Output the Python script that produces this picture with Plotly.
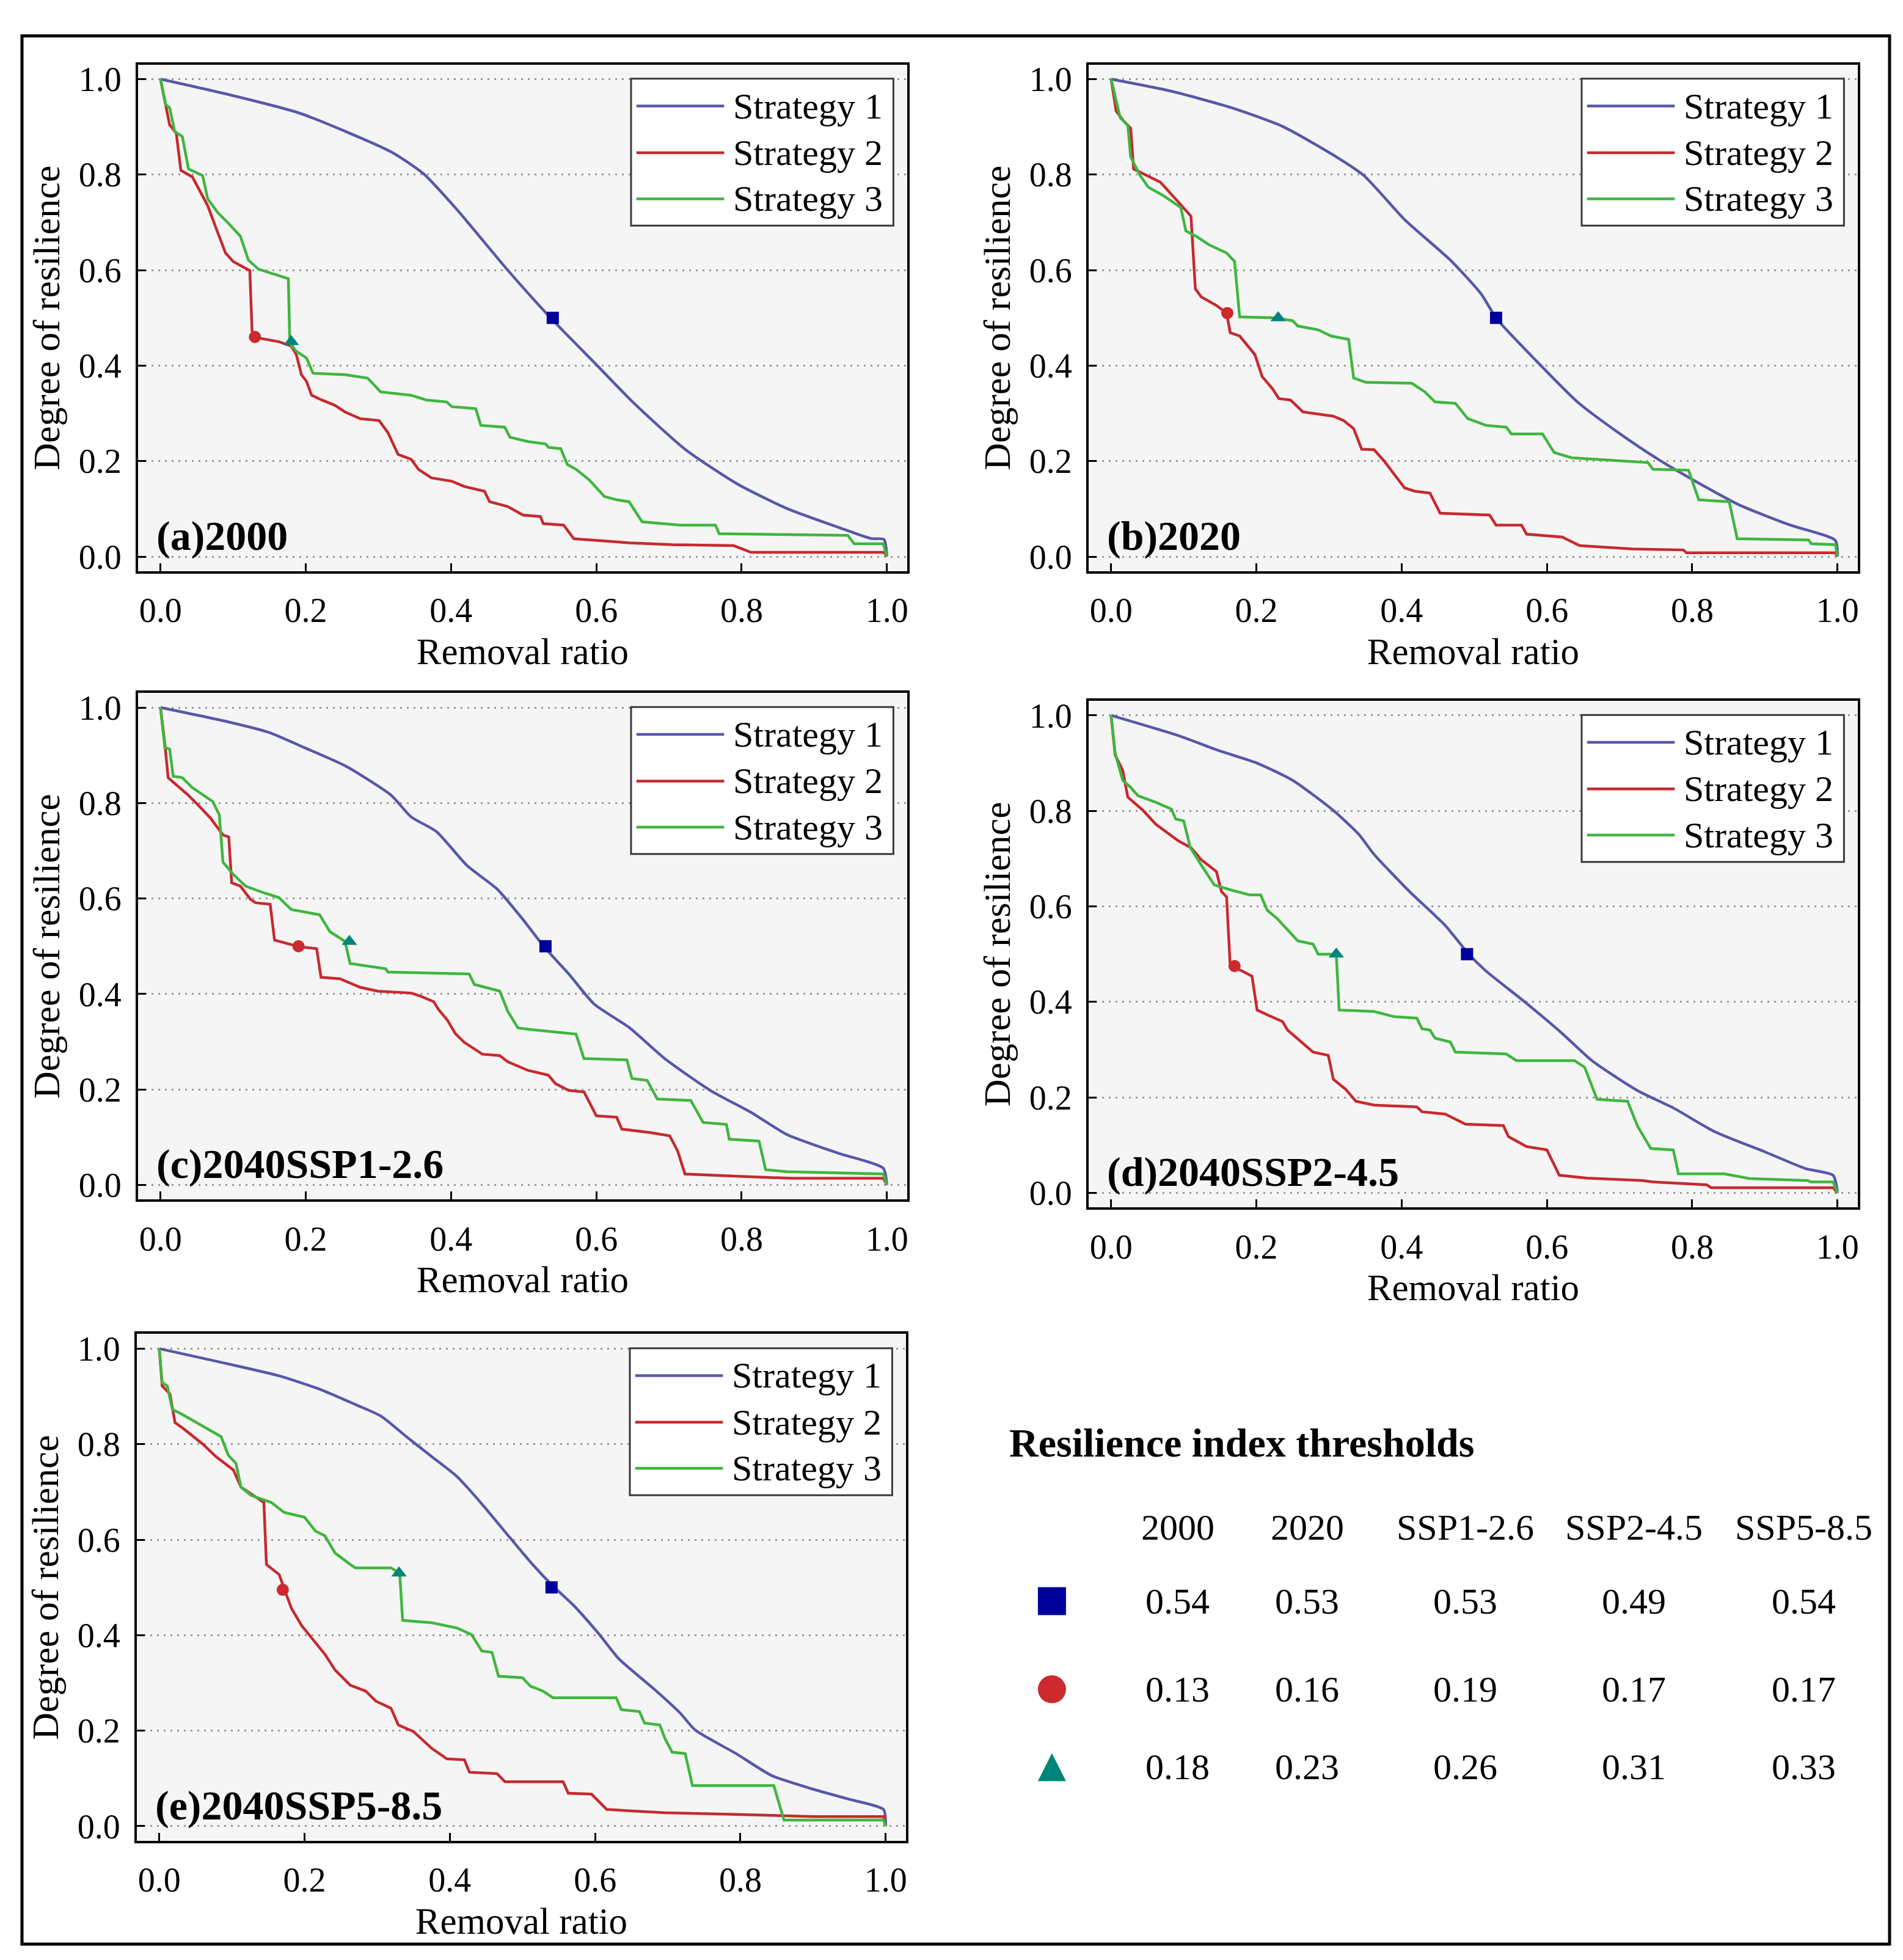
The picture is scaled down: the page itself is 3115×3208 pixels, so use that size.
import plotly.graph_objects as go

W, H = 3115, 3208
FONT = "Liberation Serif"

# ---------------- data ----------------
strategies = ["Strategy 1", "Strategy 2", "Strategy 3"]
panel_labels = ["(a)2000", "(b)2020", "(c)2040SSP1-2.6", "(d)2040SSP2-4.5", "(e)2040SSP5-8.5"]
scenarios = ["2000", "2020", "SSP1-2.6", "SSP2-4.5", "SSP5-8.5"]

# thresholds (removal ratio where resilience falls to ~0.5)
thr_s1 = [0.54, 0.53, 0.53, 0.49, 0.54]
thr_s2 = [0.13, 0.16, 0.19, 0.17, 0.17]
thr_s3 = [0.18, 0.23, 0.26, 0.31, 0.33]
# resilience value at the threshold markers
mk_s1_y = [0.50, 0.50, 0.50, 0.50, 0.50]
mk_s2_y = [0.46, 0.51, 0.50, 0.475, 0.495]
mk_s3_y = [0.45, 0.50, 0.51, 0.50, 0.53]

# (a) 2000
a_s1_x = [0, 0.093, 0.191, 0.317, 0.362, 0.408, 0.478, 0.537, 0.600, 0.652, 0.722, 0.792, 0.862, 0.932, 0.978, 0.996, 1.0]
a_s1_y = [1.0, 0.968, 0.929, 0.848, 0.802, 0.727, 0.600, 0.500, 0.402, 0.321, 0.225, 0.154, 0.101, 0.062, 0.038, 0.036, 0.0]
a_s2_x = [0, 0.006, 0.0126, 0.0217, 0.028, 0.044, 0.065, 0.0755, 0.0895, 0.100, 0.123, 0.126, 0.129, 0.138, 0.163, 0.180, 0.187, 0.194, 0.201, 0.208, 0.222, 0.240, 0.254, 0.275, 0.301, 0.313, 0.327, 0.345, 0.355, 0.373, 0.401, 0.418, 0.446, 0.453, 0.478, 0.499, 0.523, 0.527, 0.555, 0.569, 0.645, 0.705, 0.789, 0.813, 0.996, 1.0]
a_s2_y = [1.0, 0.954, 0.904, 0.887, 0.809, 0.795, 0.735, 0.692, 0.636, 0.618, 0.599, 0.473, 0.461, 0.457, 0.450, 0.441, 0.423, 0.381, 0.367, 0.338, 0.328, 0.317, 0.303, 0.289, 0.285, 0.260, 0.214, 0.204, 0.183, 0.165, 0.158, 0.147, 0.137, 0.115, 0.105, 0.087, 0.084, 0.069, 0.066, 0.0375, 0.029, 0.025, 0.023, 0.009, 0.009, 0.0]
a_s3_x = [0, 0.007, 0.0126, 0.0196, 0.030, 0.0385, 0.058, 0.065, 0.079, 0.093, 0.110, 0.121, 0.135, 0.176, 0.178, 0.187, 0.201, 0.210, 0.254, 0.285, 0.303, 0.345, 0.366, 0.394, 0.401, 0.434, 0.441, 0.474, 0.481, 0.506, 0.530, 0.534, 0.551, 0.560, 0.572, 0.590, 0.611, 0.628, 0.645, 0.663, 0.715, 0.764, 0.769, 0.946, 0.955, 0.995, 1.0]
a_s3_y = [1.0, 0.947, 0.940, 0.890, 0.880, 0.812, 0.798, 0.749, 0.720, 0.699, 0.671, 0.621, 0.602, 0.582, 0.448, 0.430, 0.416, 0.384, 0.381, 0.374, 0.345, 0.338, 0.328, 0.324, 0.314, 0.310, 0.275, 0.271, 0.250, 0.241, 0.236, 0.229, 0.226, 0.193, 0.183, 0.161, 0.126, 0.119, 0.115, 0.073, 0.066, 0.066, 0.048, 0.0446, 0.027, 0.027, 0.0]

# (b) 2020
b_s1_x = [0, 0.082, 0.166, 0.236, 0.306, 0.348, 0.404, 0.467, 0.509, 0.531, 0.586, 0.642, 0.698, 0.753, 0.809, 0.865, 0.935, 0.997, 1.0]
b_s1_y = [1.0, 0.975, 0.940, 0.901, 0.841, 0.798, 0.706, 0.621, 0.551, 0.498, 0.409, 0.324, 0.260, 0.204, 0.154, 0.108, 0.066, 0.034, 0.0]
b_s2_x = [0, 0.007, 0.018, 0.027, 0.031, 0.044, 0.068, 0.093, 0.110, 0.116, 0.124, 0.145, 0.159, 0.164, 0.177, 0.198, 0.208, 0.222, 0.231, 0.247, 0.264, 0.306, 0.320, 0.334, 0.345, 0.362, 0.376, 0.404, 0.418, 0.439, 0.453, 0.521, 0.530, 0.565, 0.572, 0.621, 0.645, 0.718, 0.788, 0.792, 0.997, 1.0]
b_s2_y = [1.0, 0.933, 0.911, 0.897, 0.812, 0.802, 0.784, 0.742, 0.713, 0.561, 0.544, 0.526, 0.510, 0.469, 0.462, 0.423, 0.377, 0.352, 0.331, 0.328, 0.303, 0.294, 0.285, 0.268, 0.225, 0.224, 0.200, 0.144, 0.137, 0.133, 0.091, 0.087, 0.066, 0.066, 0.047, 0.041, 0.023, 0.016, 0.014, 0.008, 0.008, 0.0]
b_s3_x = [0, 0.0126, 0.023, 0.027, 0.040, 0.051, 0.072, 0.096, 0.103, 0.117, 0.135, 0.159, 0.170, 0.177, 0.226, 0.250, 0.257, 0.285, 0.303, 0.327, 0.334, 0.351, 0.414, 0.432, 0.446, 0.474, 0.491, 0.516, 0.544, 0.551, 0.594, 0.610, 0.634, 0.708, 0.739, 0.746, 0.795, 0.809, 0.851, 0.862, 0.960, 0.964, 0.997, 1.0]
b_s3_y = [1.0, 0.919, 0.904, 0.837, 0.798, 0.774, 0.756, 0.731, 0.682, 0.671, 0.653, 0.636, 0.618, 0.502, 0.500, 0.494, 0.483, 0.475, 0.462, 0.455, 0.374, 0.365, 0.363, 0.345, 0.324, 0.321, 0.289, 0.275, 0.271, 0.257, 0.257, 0.218, 0.207, 0.200, 0.197, 0.183, 0.181, 0.119, 0.115, 0.0375, 0.035, 0.027, 0.025, 0.0]

# (c) 2040 SSP1-2.6
c_s1_x = [0, 0.093, 0.149, 0.198, 0.254, 0.317, 0.345, 0.380, 0.422, 0.464, 0.499, 0.528, 0.562, 0.597, 0.646, 0.694, 0.757, 0.813, 0.862, 0.932, 0.995, 1.0]
c_s1_y = [1.0, 0.970, 0.948, 0.916, 0.878, 0.817, 0.771, 0.740, 0.669, 0.619, 0.556, 0.499, 0.442, 0.379, 0.329, 0.265, 0.198, 0.152, 0.106, 0.067, 0.035, 0.0]
c_s2_x = [0, 0.006, 0.0105, 0.023, 0.037, 0.051, 0.069, 0.086, 0.094, 0.098, 0.110, 0.124, 0.131, 0.151, 0.157, 0.191, 0.215, 0.221, 0.247, 0.275, 0.299, 0.345, 0.359, 0.376, 0.383, 0.395, 0.406, 0.418, 0.443, 0.467, 0.478, 0.506, 0.534, 0.544, 0.562, 0.583, 0.600, 0.628, 0.635, 0.673, 0.701, 0.712, 0.722, 0.800, 0.869, 0.995, 1.0]
c_s2_y = [1.0, 0.924, 0.853, 0.836, 0.818, 0.797, 0.768, 0.733, 0.729, 0.633, 0.626, 0.598, 0.591, 0.588, 0.513, 0.499, 0.495, 0.435, 0.432, 0.414, 0.406, 0.402, 0.395, 0.384, 0.367, 0.345, 0.317, 0.299, 0.274, 0.271, 0.258, 0.240, 0.230, 0.212, 0.198, 0.195, 0.145, 0.142, 0.117, 0.110, 0.103, 0.071, 0.023, 0.018, 0.014, 0.014, 0.0]
c_s3_x = [0, 0.006, 0.0126, 0.0175, 0.030, 0.044, 0.072, 0.081, 0.086, 0.100, 0.117, 0.142, 0.163, 0.180, 0.219, 0.233, 0.254, 0.261, 0.310, 0.313, 0.425, 0.432, 0.467, 0.478, 0.492, 0.513, 0.572, 0.583, 0.642, 0.649, 0.670, 0.684, 0.730, 0.747, 0.779, 0.783, 0.824, 0.833, 0.862, 0.995, 1.0]
c_s3_y = [1.0, 0.916, 0.913, 0.856, 0.853, 0.832, 0.803, 0.775, 0.676, 0.651, 0.626, 0.612, 0.602, 0.577, 0.566, 0.531, 0.510, 0.464, 0.453, 0.446, 0.442, 0.420, 0.406, 0.364, 0.329, 0.325, 0.316, 0.265, 0.262, 0.223, 0.219, 0.180, 0.177, 0.131, 0.127, 0.096, 0.092, 0.032, 0.028, 0.023, 0.0]

# (d) 2040 SSP2-4.5
d_s1_x = [0, 0.096, 0.145, 0.201, 0.250, 0.306, 0.341, 0.362, 0.411, 0.460, 0.493, 0.516, 0.572, 0.621, 0.662, 0.725, 0.774, 0.830, 0.900, 0.956, 0.994, 1.0]
d_s1_y = [1.0, 0.956, 0.928, 0.900, 0.864, 0.801, 0.751, 0.709, 0.631, 0.560, 0.499, 0.465, 0.397, 0.334, 0.277, 0.214, 0.178, 0.129, 0.086, 0.051, 0.037, 0.0]
d_s2_x = [0, 0.0056, 0.016, 0.023, 0.044, 0.0615, 0.093, 0.110, 0.124, 0.145, 0.152, 0.159, 0.164, 0.180, 0.194, 0.201, 0.215, 0.236, 0.243, 0.264, 0.278, 0.299, 0.306, 0.323, 0.337, 0.362, 0.421, 0.428, 0.460, 0.488, 0.540, 0.547, 0.572, 0.600, 0.617, 0.655, 0.732, 0.746, 0.820, 0.826, 0.994, 1.0]
d_s2_y = [1.0, 0.917, 0.885, 0.829, 0.801, 0.772, 0.737, 0.723, 0.698, 0.673, 0.631, 0.620, 0.475, 0.465, 0.454, 0.383, 0.373, 0.359, 0.341, 0.313, 0.295, 0.288, 0.238, 0.217, 0.192, 0.184, 0.180, 0.170, 0.165, 0.144, 0.141, 0.118, 0.097, 0.090, 0.037, 0.031, 0.026, 0.023, 0.017, 0.011, 0.011, 0.0]
d_s3_x = [0, 0.0056, 0.016, 0.0265, 0.037, 0.0615, 0.083, 0.089, 0.100, 0.109, 0.124, 0.142, 0.166, 0.191, 0.206, 0.215, 0.229, 0.257, 0.278, 0.285, 0.310, 0.314, 0.362, 0.390, 0.421, 0.428, 0.439, 0.446, 0.467, 0.474, 0.544, 0.558, 0.638, 0.652, 0.669, 0.711, 0.725, 0.743, 0.774, 0.781, 0.844, 0.879, 0.959, 0.963, 0.994, 1.0]
d_s3_y = [1.0, 0.921, 0.864, 0.850, 0.832, 0.818, 0.804, 0.783, 0.779, 0.723, 0.687, 0.645, 0.634, 0.624, 0.624, 0.592, 0.574, 0.528, 0.521, 0.500, 0.500, 0.383, 0.380, 0.369, 0.366, 0.344, 0.341, 0.324, 0.316, 0.295, 0.291, 0.277, 0.277, 0.263, 0.196, 0.192, 0.139, 0.093, 0.090, 0.040, 0.040, 0.030, 0.026, 0.023, 0.023, 0.0]

# (e) 2040 SSP5-8.5
e_s1_x = [0, 0.095, 0.165, 0.221, 0.270, 0.305, 0.340, 0.375, 0.410, 0.444, 0.479, 0.514, 0.544, 0.570, 0.605, 0.633, 0.682, 0.717, 0.738, 0.794, 0.843, 0.899, 0.948, 0.997, 1.0]
e_s1_y = [1.0, 0.968, 0.943, 0.915, 0.883, 0.859, 0.816, 0.774, 0.732, 0.675, 0.611, 0.548, 0.500, 0.463, 0.403, 0.350, 0.286, 0.237, 0.201, 0.152, 0.106, 0.078, 0.057, 0.035, 0.0]
e_s2_x = [0, 0.004, 0.0147, 0.0217, 0.032, 0.060, 0.078, 0.102, 0.1125, 0.130, 0.144, 0.1475, 0.165, 0.173, 0.182, 0.196, 0.207, 0.228, 0.242, 0.263, 0.284, 0.298, 0.319, 0.329, 0.350, 0.375, 0.396, 0.420, 0.427, 0.465, 0.476, 0.556, 0.563, 0.595, 0.616, 0.696, 0.787, 0.899, 0.997, 1.0]
e_s2_y = [1.0, 0.922, 0.905, 0.845, 0.834, 0.800, 0.774, 0.746, 0.710, 0.693, 0.678, 0.548, 0.527, 0.493, 0.456, 0.420, 0.399, 0.360, 0.327, 0.295, 0.283, 0.262, 0.247, 0.212, 0.198, 0.163, 0.141, 0.139, 0.113, 0.110, 0.093, 0.093, 0.069, 0.067, 0.035, 0.028, 0.025, 0.020, 0.020, 0.0]
e_s3_x = [0, 0.004, 0.011, 0.018, 0.032, 0.060, 0.085, 0.095, 0.1055, 0.1125, 0.126, 0.154, 0.172, 0.200, 0.215, 0.228, 0.242, 0.263, 0.270, 0.319, 0.331, 0.335, 0.375, 0.410, 0.430, 0.444, 0.458, 0.467, 0.500, 0.511, 0.528, 0.542, 0.629, 0.636, 0.661, 0.668, 0.689, 0.696, 0.706, 0.724, 0.734, 0.846, 0.860, 0.997, 1.0]
e_s3_y = [1.0, 0.929, 0.922, 0.873, 0.862, 0.837, 0.816, 0.777, 0.760, 0.710, 0.693, 0.678, 0.657, 0.647, 0.618, 0.608, 0.572, 0.548, 0.541, 0.541, 0.530, 0.431, 0.426, 0.415, 0.401, 0.367, 0.364, 0.314, 0.311, 0.293, 0.283, 0.269, 0.269, 0.244, 0.240, 0.216, 0.212, 0.184, 0.155, 0.152, 0.085, 0.085, 0.0127, 0.0127, 0.0]

# ---------------- styling ----------------
line_colors = ["#5757a9", "#c62a2e", "#3fb63f"]
line_shapes = ["spline", "linear", "linear"]
marker_colors = ["#00009c", "#cc2a2f", "#00857a"]
marker_symbols = ["square", "circle", "triangle-up"]
marker_sizes = [20, 20, 22]

panels = [
    [(a_s1_x, a_s1_y), (a_s2_x, a_s2_y), (a_s3_x, a_s3_y)],
    [(b_s1_x, b_s1_y), (b_s2_x, b_s2_y), (b_s3_x, b_s3_y)],
    [(c_s1_x, c_s1_y), (c_s2_x, c_s2_y), (c_s3_x, c_s3_y)],
    [(d_s1_x, d_s1_y), (d_s2_x, d_s2_y), (d_s3_x, d_s3_y)],
    [(e_s1_x, e_s1_y), (e_s2_x, e_s2_y), (e_s3_x, e_s3_y)],
]
thresholds = [thr_s1, thr_s2, thr_s3]
marker_y = [mk_s1_y, mk_s2_y, mk_s3_y]

# plot frames in pixels: (left, right, top, bottom)
frames_px = [
    (218, 1478, 92, 925),
    (1775, 3035, 92, 925),
    (218, 1478, 1125, 1958),
    (1775, 3035, 1138, 1971),
    (216, 1476, 2179, 3012),
]

fig = go.Figure()
layout = dict(
    width=W, height=H,
    margin=dict(l=0, r=0, t=0, b=0),
    paper_bgcolor="white",
    plot_bgcolor="#f5f5f5",
    showlegend=False,
    font=dict(family=FONT, color="black", size=56),
)
shapes = []
annotations = []

for i, (curves, frm) in enumerate(zip(panels, frames_px)):
    k = "" if i == 0 else str(i + 1)
    xa, ya = "x" + k, "y" + k
    l, r, t, b = frm
    layout["xaxis" + k] = dict(
        domain=[l / W, r / W], anchor=ya, range=[-0.031, 1.028],
        tickvals=[0, 0.2, 0.4, 0.6, 0.8, 1.0], tickformat=".1f",
        ticks="inside", ticklen=13, tickwidth=3, tickcolor="black",
        showline=True, mirror=True, linecolor="black", linewidth=4,
        showgrid=False, zeroline=False, ticklabelstandoff=12,
        tickfont=dict(family=FONT, size=56, color="black"),
        title=dict(text="Removal ratio", font=dict(family=FONT, size=61, color="black"), standoff=16),
        automargin=True,
    )
    layout["yaxis" + k] = dict(
        domain=[1 - b / H, 1 - t / H], anchor=xa, range=[-0.0306, 1.0306],
        tickvals=[0, 0.2, 0.4, 0.6, 0.8, 1.0], tickformat=".1f",
        ticks="inside", ticklen=13, tickwidth=3, tickcolor="black",
        showline=True, mirror=True, linecolor="black", linewidth=4,
        showgrid=True, gridcolor="#9a9a9a", gridwidth=3, griddash="3px,8px",
        zeroline=False, ticklabelstandoff=12,
        tickfont=dict(family=FONT, size=56, color="black"),
        title=dict(text="Degree of resilience", font=dict(family=FONT, size=62, color="black"), standoff=12),
        automargin=True,
    )
    for s, (cx, cy) in enumerate(curves):
        fig.add_trace(go.Scatter(
            x=cx, y=cy, mode="lines", name=strategies[s],
            line=dict(color=line_colors[s], width=4.5, shape=line_shapes[s], smoothing=0.6),
            xaxis=xa, yaxis=ya, hoverinfo="skip",
        ))
    for s in range(3):
        fig.add_trace(go.Scatter(
            x=[thresholds[s][i]], y=[marker_y[s][i]], mode="markers",
            marker=dict(symbol=marker_symbols[s], color=marker_colors[s], size=marker_sizes[s],
                        line=dict(width=0)),
            xaxis=xa, yaxis=ya, name=strategies[s] + " threshold",
        ))
    # legend box drawn inside each panel
    xd, yd = xa + " domain", ya + " domain"
    shapes.append(dict(type="rect", xref=xd, yref=yd, x0=0.641, x1=0.982, y0=0.682, y1=0.972,
                       fillcolor="white", line=dict(color="#3a3a3a", width=3), layer="above"))
    for s, ly in enumerate([0.918, 0.826, 0.735]):
        shapes.append(dict(type="line", xref=xd, yref=yd, x0=0.648, x1=0.762, y0=ly, y1=ly,
                           line=dict(color=line_colors[s], width=4.5), layer="above"))
        annotations.append(dict(xref=xd, yref=yd, x=0.772, y=ly, text=strategies[s],
                                xanchor="left", yanchor="middle", showarrow=False,
                                font=dict(family=FONT, size=60, color="black")))
    # panel label
    annotations.append(dict(xref=xd, yref=yd, x=0.022, y=0.07, text="<b>" + panel_labels[i] + "</b>",
                            xanchor="left", yanchor="middle", showarrow=False,
                            font=dict(family=FONT, size=68, color="black")))

# ---------------- threshold table ----------------
col_x_px = [1921, 2133, 2392, 2668, 2946]
row_y_px = [2618, 2763, 2891]
annotations.append(dict(xref="paper", yref="paper", x=1643 / W, y=1 - 2358 / H,
                        text="<b>Resilience index thresholds</b>", xanchor="left", yanchor="middle",
                        showarrow=False, font=dict(family=FONT, size=66, color="black")))
for cxp, sc in zip(col_x_px, scenarios):
    annotations.append(dict(xref="paper", yref="paper", x=cxp / W, y=1 - 2497 / H, text=sc,
                            xanchor="center", yanchor="middle", showarrow=False,
                            font=dict(family=FONT, size=60, color="black")))
for s, ryp in enumerate(row_y_px):
    for cxp, v in zip(col_x_px, thresholds[s]):
        annotations.append(dict(xref="paper", yref="paper", x=cxp / W, y=1 - ryp / H, text=f"{v:.2f}",
                                xanchor="center", yanchor="middle", showarrow=False,
                                font=dict(family=FONT, size=60, color="black")))

# table symbols
mx, half = 1715, 23
sq_y = row_y_px[0]
shapes.append(dict(type="rect", xref="paper", yref="paper",
                   x0=(mx - half) / W, x1=(mx + half) / W, y0=1 - (sq_y + half) / H, y1=1 - (sq_y - half) / H,
                   fillcolor=marker_colors[0], line=dict(width=0)))
ci_y = row_y_px[1]
shapes.append(dict(type="circle", xref="paper", yref="paper",
                   x0=(mx - half) / W, x1=(mx + half) / W, y0=1 - (ci_y + half) / H, y1=1 - (ci_y - half) / H,
                   fillcolor=marker_colors[1], line=dict(width=0)))
tr_y = row_y_px[2]
tri_path = "M {:.5f},{:.5f} L {:.5f},{:.5f} L {:.5f},{:.5f} Z".format(
    (mx - half) / W, 1 - (tr_y + half) / H, (mx + half) / W, 1 - (tr_y + half) / H, mx / W, 1 - (tr_y - half) / H)
shapes.append(dict(type="path", xref="paper", yref="paper", path=tri_path,
                   fillcolor=marker_colors[2], line=dict(width=0)))

# outer border
shapes.append(dict(type="rect", xref="paper", yref="paper", x0=28 / W, x1=3087 / W,
                   y0=1 - 3182 / H, y1=1 - 45 / H, line=dict(color="black", width=5), fillcolor="rgba(0,0,0,0)"))

layout["shapes"] = shapes
layout["annotations"] = annotations
fig.update_layout(**layout)
fig.write_html("out.html")
